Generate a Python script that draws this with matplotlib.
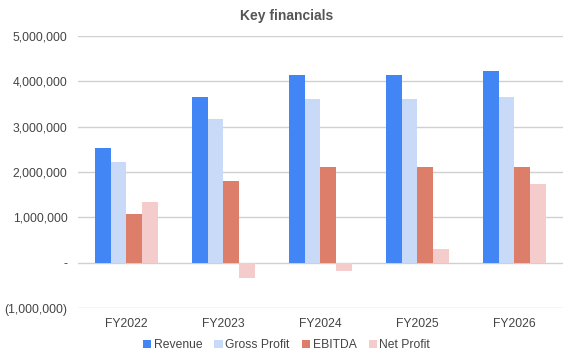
import matplotlib.pyplot as plt
import numpy as np
from matplotlib.ticker import FuncFormatter

years = ["FY2022", "FY2023", "FY2024", "FY2025", "FY2026"]
revenue = [2540000, 3650000, 4140000, 4140000, 4230000]
gross_profit = [2210000, 3160000, 3600000, 3600000, 3650000]
ebitda = [1080000, 1810000, 2120000, 2100000, 2120000]
net_profit = [1330000, -330000, -190000, 310000, 1730000]

series = [("Revenue", revenue, "#4285F4"),
          ("Gross Profit", gross_profit, "#C9DAF8"),
          ("EBITDA", ebitda, "#DD7E6B"),
          ("Net Profit", net_profit, "#F4CCCC")]

plt.rcParams['font.family'] = ['Liberation Sans', 'DejaVu Sans']

fig = plt.figure(figsize=(5.73, 3.61), dpi=100)
ax = fig.add_axes([0.136, 0.1468, 0.8465, 0.7535])

x = np.arange(len(years))
w = 0.163
for i, (name, vals, col) in enumerate(series):
    ax.bar(x + (i - 1.5) * w, vals, w, color=col, label=name, zorder=3)

def fmt(v, pos):
    if abs(v) < 1:
        return "-"
    if v < 0:
        return "({:,.0f})".format(-v)
    return "{:,.0f}".format(v)

ax.set_ylim(-1000000, 5000000)
ax.set_yticks(np.arange(-1000000, 5000001, 1000000))
ax.yaxis.set_major_formatter(FuncFormatter(fmt))
ax.set_xlim(-0.5, len(years) - 0.5)
ax.set_xticks(x)
ax.set_xticklabels(years)
ax.grid(axis='y', color='#d0d0d0', linewidth=1, zorder=0)
ax.tick_params(length=0, labelsize=8.7, colors='#444444')
ax.tick_params(axis='y', pad=7.5)
ax.tick_params(axis='x', pad=7)
for s in ax.spines.values():
    s.set_visible(False)

fig.text(0.5, 0.957, "Key financials", ha='center', va='center',
         fontsize=10, fontweight='bold', color='#555555')

handles, labels = ax.get_legend_handles_labels()
fig.legend(handles, labels, loc='center', bbox_to_anchor=(0.5, 0.044), ncol=4,
           frameon=False, fontsize=8.7, handlelength=0.7, handleheight=0.7,
           handletextpad=0.2, columnspacing=1.0, labelcolor='#444444')

fig.savefig("out.png", dpi=100)
